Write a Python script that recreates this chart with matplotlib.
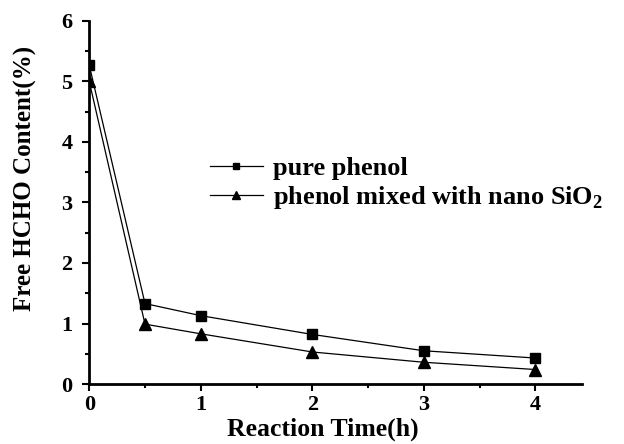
import matplotlib
matplotlib.use("Agg")
import matplotlib.pyplot as plt
from matplotlib.ticker import MultipleLocator

plt.rcParams['font.family'] = 'Liberation Serif'
plt.rcParams['font.weight'] = 'bold'
plt.rcParams['mathtext.fontset'] = 'custom'
plt.rcParams['mathtext.rm'] = 'Liberation Serif:bold'
plt.rcParams['mathtext.bf'] = 'Liberation Serif:bold'

time_h = [0, 0.5, 1, 2, 3, 4]
pure_phenol = [5.27, 1.33, 1.13, 0.82, 0.55, 0.43]
nano_sio2 = [5.0, 0.99, 0.83, 0.53, 0.36, 0.24]

fig = plt.figure(figsize=(6.24, 4.44), dpi=100)
ax = fig.add_axes([0.143, 0.135, 0.79, 0.818])

ax.plot(time_h, pure_phenol, 'k-', marker='s', ms=6.5, lw=0.9, label="pure phenol")
ax.plot(time_h, nano_sio2, 'k-', marker='^', ms=9, lw=0.9, label="phenol mixed with nano SiO$_2$")

ax.set_xlim(0, 4.42)
ax.set_ylim(0, 6)
ax.xaxis.set_major_locator(MultipleLocator(1))
ax.xaxis.set_minor_locator(MultipleLocator(0.5))
ax.yaxis.set_major_locator(MultipleLocator(1))
ax.yaxis.set_minor_locator(MultipleLocator(0.5))
ax.tick_params(which='major', length=5, width=1.5, labelsize=16, pad=3)
ax.tick_params(axis='y', which='major', pad=7)
ax.tick_params(which='minor', length=3, width=1.5)
ax.spines['top'].set_visible(False)
ax.spines['right'].set_visible(False)
ax.spines['left'].set_linewidth(2)
ax.spines['bottom'].set_linewidth(2)

ax.set_xlabel("Reaction Time(h)", fontsize=18.5, fontweight='bold')
ax.xaxis.set_label_coords(0.473, -0.091)
ax.set_ylabel("Free HCHO Content(%)", fontsize=18, fontweight='bold')
ax.yaxis.set_label_coords(-0.105, 0.567)

ax.legend(loc='upper left', bbox_to_anchor=(0.245, 0.626), frameon=False, fontsize=19,
          handlelength=2.0, handletextpad=0.4, markerscale=0.6, labelspacing=0.15,
          borderpad=0, borderaxespad=0)

fig.savefig("out.png", dpi=100)
